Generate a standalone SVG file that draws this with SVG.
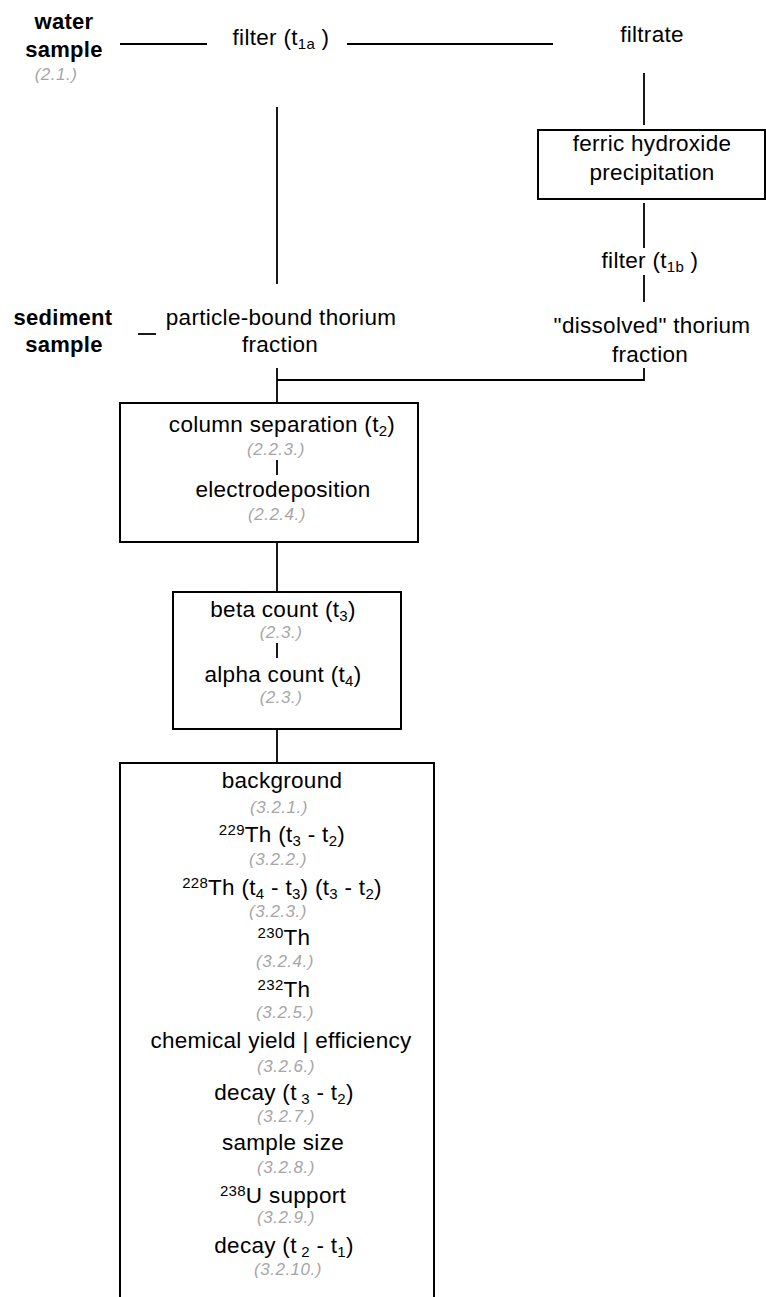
<svg xmlns="http://www.w3.org/2000/svg" width="766" height="1297" viewBox="0 0 766 1297">
<style>
text{font-family:"Liberation Sans",Arial,sans-serif;font-size:22.5px;fill:#000;letter-spacing:0.3px;text-anchor:middle}
.b{font-weight:bold;font-size:22px}
.g{font-size:17px;font-style:italic;fill:#a6a6a6;letter-spacing:0.5px}
.s{font-size:15px;letter-spacing:0.3px}
.box{fill:none;stroke:#000;stroke-width:2}
.ln{stroke:#000;stroke-width:1.8;fill:none}
</style>
<rect width="766" height="1297" fill="#fff"/>
<g id="connectors">
<line class="ln" x1="120" y1="44" x2="207" y2="44"/>
<line class="ln" x1="347" y1="44" x2="553" y2="44"/>
<line class="ln" x1="277" y1="107" x2="277" y2="284"/>
<line class="ln" x1="644" y1="73" x2="644" y2="125"/>
<line class="ln" x1="644" y1="203" x2="644" y2="248"/>
<line class="ln" x1="644" y1="275" x2="644" y2="302"/>
<line class="ln" x1="138" y1="334" x2="156" y2="334"/>
<polyline class="ln" points="644,368 644,380 277,380"/>
<line class="ln" x1="277" y1="368" x2="277" y2="403"/>
<line class="ln" x1="277" y1="542" x2="277" y2="592"/>
<line class="ln" x1="277" y1="729" x2="277" y2="763"/>
<line class="ln" x1="277" y1="460" x2="277" y2="475"/>
<line class="ln" x1="277" y1="643" x2="277" y2="658"/>
</g>
<g id="water-sample">
<text class="b" x="64" y="29">water</text>
<text class="b" x="64" y="57">sample</text>
<text class="g" x="56" y="80">(2.1.)</text>
</g>
<g id="filter-1a">
<text x="281" y="45">filter (t<tspan class="s" dy="4">1a</tspan><tspan dy="-4"> )</tspan></text>
</g>
<g id="filtrate">
<text x="652" y="42">filtrate</text>
</g>
<g id="ferric">
<rect class="box" x="538" y="130" width="227" height="69"/>
<text x="652" y="151">ferric hydroxide</text>
<text x="652" y="180">precipitation</text>
</g>
<g id="filter-1b">
<text x="650" y="268">filter (t<tspan class="s" dy="4">1b</tspan><tspan dy="-4"> )</tspan></text>
</g>
<g id="dissolved">
<text x="652" y="333">"dissolved" thorium</text>
<text x="650" y="362">fraction</text>
</g>
<g id="sediment-sample">
<text class="b" x="63" y="325">sediment</text>
<text class="b" x="64" y="352">sample</text>
</g>
<g id="particle">
<text x="281" y="325">particle-bound thorium</text>
<text x="280" y="352">fraction</text>
</g>
<g id="separation">
<rect class="box" x="120" y="403" width="298" height="139"/>
<text x="282" y="432">column separation (t<tspan class="s" dy="4">2</tspan><tspan dy="-4">)</tspan></text>
<text class="g" x="276" y="455">(2.2.3.)</text>
<text x="283" y="497">electrodeposition</text>
<text class="g" x="277" y="520">(2.2.4.)</text>
</g>
<g id="counting">
<rect class="box" x="173" y="592" width="228" height="137"/>
<text x="283" y="617">beta count (t<tspan class="s" dy="4">3</tspan><tspan dy="-4">)</tspan></text>
<text class="g" x="281" y="638">(2.3.)</text>
<text x="283" y="682">alpha count (t<tspan class="s" dy="4">4</tspan><tspan dy="-4">)</tspan></text>
<text class="g" x="281" y="703">(2.3.)</text>
</g>
<g id="corrections">
<rect class="box" x="120" y="763" width="314" height="560"/>
<text x="282" y="788">background</text>
<text class="g" x="279" y="813">(3.2.1.)</text>
<text x="282" y="842"><tspan class="s" dy="-7">229</tspan><tspan dy="7">Th (t</tspan><tspan class="s" dy="4">3</tspan><tspan dy="-4"> - t</tspan><tspan class="s" dy="4">2</tspan><tspan dy="-4">)</tspan></text>
<text class="g" x="278" y="865">(3.2.2.)</text>
<text x="282" y="895"><tspan class="s" dy="-7">228</tspan><tspan dy="7">Th (t</tspan><tspan class="s" dy="4">4</tspan><tspan dy="-4"> - t</tspan><tspan class="s" dy="4">3</tspan><tspan dy="-4">) (t</tspan><tspan class="s" dy="4">3</tspan><tspan dy="-4"> - t</tspan><tspan class="s" dy="4">2</tspan><tspan dy="-4">)</tspan></text>
<text class="g" x="278" y="917">(3.2.3.)</text>
<text x="284" y="945"><tspan class="s" dy="-7">230</tspan><tspan dy="7">Th</tspan></text>
<text class="g" x="285" y="967">(3.2.4.)</text>
<text x="284" y="997"><tspan class="s" dy="-7">232</tspan><tspan dy="7">Th</tspan></text>
<text class="g" x="285" y="1018">(3.2.5.)</text>
<text x="281" y="1048">chemical yield | efficiency</text>
<text class="g" x="286" y="1072">(3.2.6.)</text>
<text x="284" y="1100">decay (t<tspan class="s" dy="4"> 3</tspan><tspan dy="-4"> - t</tspan><tspan class="s" dy="4">2</tspan><tspan dy="-4">)</tspan></text>
<text class="g" x="286" y="1122">(3.2.7.)</text>
<text x="283" y="1150">sample size</text>
<text class="g" x="286" y="1173">(3.2.8.)</text>
<text x="283" y="1203"><tspan class="s" dy="-7">238</tspan><tspan dy="7">U support</tspan></text>
<text class="g" x="286" y="1223">(3.2.9.)</text>
<text x="284" y="1253">decay (t<tspan class="s" dy="4"> 2</tspan><tspan dy="-4"> - t</tspan><tspan class="s" dy="4">1</tspan><tspan dy="-4">)</tspan></text>
<text class="g" x="288" y="1275">(3.2.10.)</text>
</g>
</svg>
